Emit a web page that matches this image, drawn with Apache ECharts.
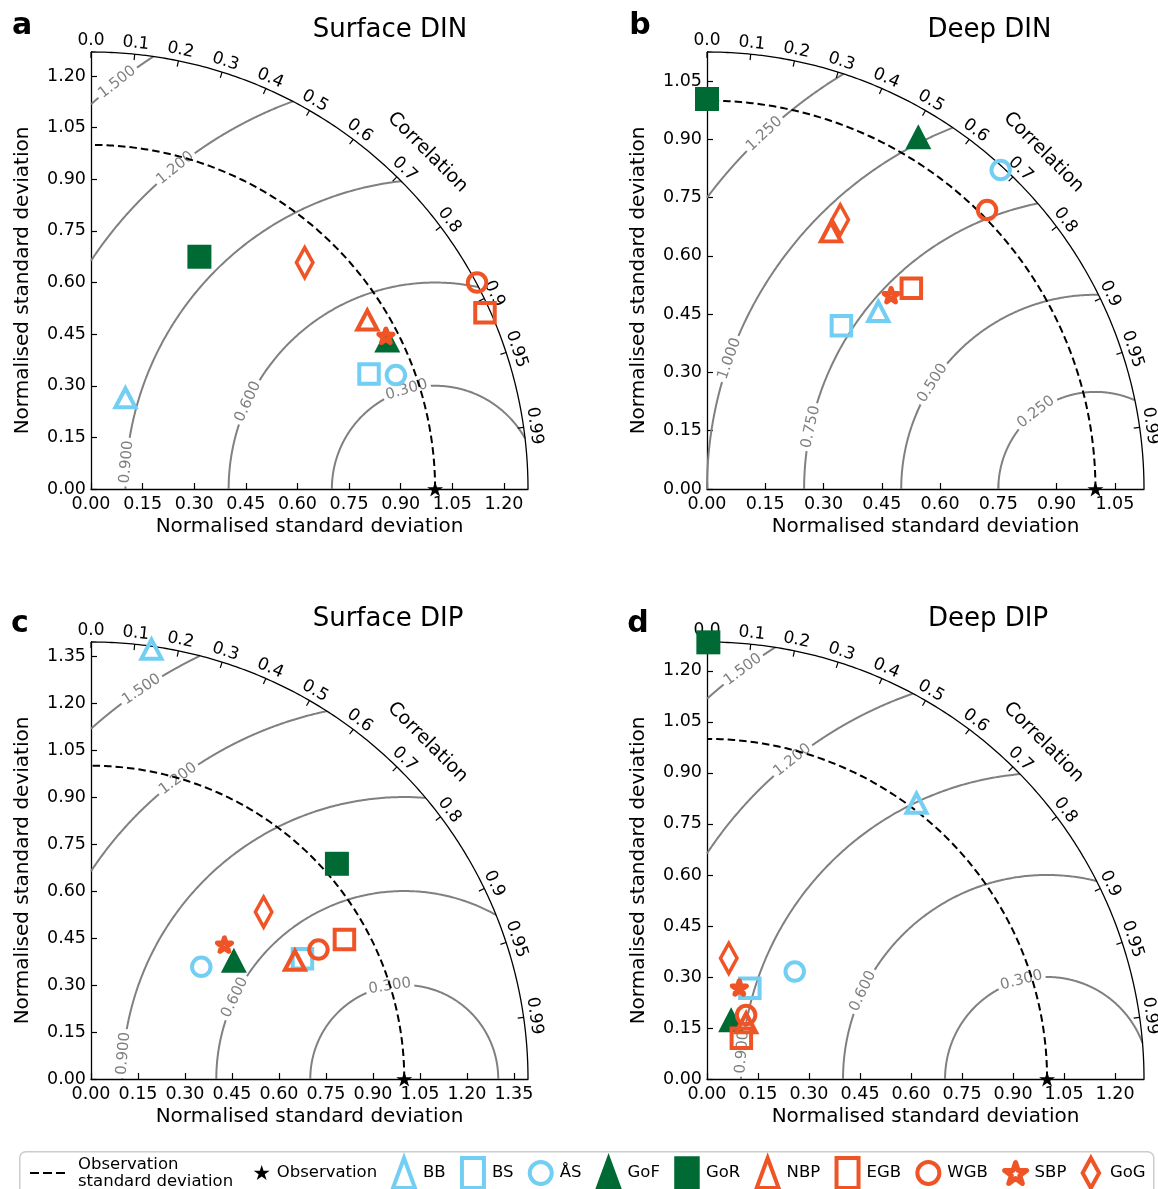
<!DOCTYPE html>
<html><head><meta charset="utf-8">
<script src="https://cdn.jsdelivr.net/npm/echarts@6/dist/echarts.min.js"></script>
<style>html,body{margin:0;padding:0;background:#fff}#c{width:1158px;height:1189px}</style>
</head><body><div id="c"></div>
<script>
// ---------------- DATA ----------------
const modelNames = ['BB','BS','ÅS','GoF','GoR','NBP','EGB','WGB','SBP','GoG'];
const panelLetters = ['a','b','c','d'];
const panelTitles = ['Surface DIN','Deep DIN','Surface DIP','Deep DIP'];
const axisMax = [1.27, 1.125, 1.395, 1.285];
const stdTicksA = [0.00,0.15,0.30,0.45,0.60,0.75,0.90,1.05,1.20];
const stdTicksB = [0.00,0.15,0.30,0.45,0.60,0.75,0.90,1.05];
const stdTicksC = [0.00,0.15,0.30,0.45,0.60,0.75,0.90,1.05,1.20,1.35];
const stdTicksD = [0.00,0.15,0.30,0.45,0.60,0.75,0.90,1.05,1.20];
const corrTicks = [0.0,0.1,0.2,0.3,0.4,0.5,0.6,0.7,0.8,0.9,0.95,0.99];
const corrTickLabels = ['0.0','0.1','0.2','0.3','0.4','0.5','0.6','0.7','0.8','0.9','0.95','0.99'];
const rmsLevelsA = [0.3,0.6,0.9,1.2,1.5];
const rmsLevelsB = [0.25,0.5,0.75,1.0,1.25];
const rmsLevelsC = [0.3,0.6,0.9,1.2,1.5];
const rmsLevelsD = [0.3,0.6,0.9,1.2,1.5];
const obsStd = 1.0;
// model points: x = std*corr, y = std*sqrt(1-corr^2), in modelNames order
const surfaceDIN_x = [0.100,0.808,0.886,0.861,0.315,0.803,1.145,1.122,0.857,0.621];
const surfaceDIN_y = [0.265,0.334,0.331,0.433,0.675,0.491,0.512,0.600,0.445,0.658];
const deepDIN_x    = [0.441,0.346,0.756,0.544,0.000,0.319,0.526,0.721,0.474,0.343];
const deepDIN_y    = [0.457,0.420,0.821,0.907,1.004,0.662,0.517,0.718,0.499,0.693];
const surfaceDIP_x = [0.193,0.675,0.352,0.456,0.785,0.651,0.809,0.726,0.426,0.551];
const surfaceDIP_y = [1.372,0.384,0.358,0.379,0.687,0.379,0.445,0.413,0.429,0.533];
const deepDIP_x    = [0.616,0.126,0.258,0.071,0.004,0.115,0.101,0.115,0.095,0.064];
const deepDIP_y    = [0.811,0.267,0.316,0.174,1.284,0.165,0.120,0.188,0.269,0.355];

// ---------------- LAYOUT / STYLE ----------------
const FONT = 'DejaVu Sans';
const C_BLUE = '#72CFF3', C_GREEN = '#006A35', C_RED = '#EE5425';
const panelX = [surfaceDIN_x, deepDIN_x, surfaceDIP_x, deepDIP_x];
const panelY = [surfaceDIN_y, deepDIN_y, surfaceDIP_y, deepDIP_y];
const stdTicks = [stdTicksA, stdTicksB, stdTicksC, stdTicksD];
const rmsLevels = [rmsLevelsA, rmsLevelsB, rmsLevelsC, rmsLevelsD];
// placement angle (deg, around the observation point) of each contour label
const rmsLabelAngles = [[106,155,175,129,128],[127.7,147,167.7,160.4,133],[98.8,154.3,174.8,127,124],[104.6,154.5,175,128.6,126.6]];
const grids = [{left:91,top:52},{left:707,top:52},{left:91,top:642},{left:707,top:642}];
const GSIZE = 437;

function starPath(inner){
  const pts=[];
  for(let k=0;k<10;k++){
    const a=Math.PI/2+k*Math.PI/5, r=(k%2)?inner:1;
    pts.push((r*Math.cos(a)).toFixed(4)+','+(-r*Math.sin(a)).toFixed(4));
  }
  return 'path://M'+pts.join('L')+'Z';
}
const STAR = starPath(0.382);
const DIAMOND = 'path://M0,-1L0.55,0L0,1L-0.55,0Z';
const DASH = 'path://M0,0h9v2.2h-9zM13,0h9v2.2h-9zM26,0h9v2.2h-9z';
const BW = 4;
const markerDefs = {
  'BB':  {symbol:'triangle', size:[20,19], color:C_BLUE},
  'BS':  {symbol:'rect', size:[19.5,19.5], color:C_BLUE},
  'ÅS':  {symbol:'circle', size:18.5, color:C_BLUE},
  'GoF': {symbol:'triangle', size:[26,25], color:C_GREEN, filled:true},
  'GoR': {symbol:'rect', size:[24,24], color:C_GREEN, filled:true},
  'NBP': {symbol:'triangle', size:[20,19], color:C_RED},
  'EGB': {symbol:'rect', size:[19.5,19.5], color:C_RED},
  'WGB': {symbol:'circle', size:18.5, color:C_RED},
  'SBP': {symbol:STAR, size:[14,13.5], color:C_RED, join:'round', bw:5},
  'GoG': {symbol:DIAMOND, size:[16.5,30], color:C_RED, bw:3.8}
};
const legendIcons = {
  'BB':'triangle','BS':'rect','ÅS':'circle','GoF':'triangle','GoR':'rect',
  'NBP':'triangle','EGB':'rect','WGB':'circle','SBP':STAR,'GoG':DIAMOND
};

function makeDecor(p){
  const R = axisMax[p];
  const items = [];
  rmsLevels[p].forEach((r,k)=>items.push({k:'rms', r, lab:r.toFixed(3), ang:rmsLabelAngles[p][k]}));
  items.push({k:'outer'});
  corrTicks.forEach((c,i)=>items.push({k:'ctick', c, lab:corrTickLabels[i]}));
  items.push({k:'ctitle'});
  return {
    type:'custom', xAxisIndex:p, yAxisIndex:p, z:1, silent:true, clip:false,
    data: items.map(()=>[0,0]),
    renderItem:(params, api)=>{
      const it = items[params.dataIndex];
      const O = api.coord([0,0]);
      const sx = api.coord([1,0])[0]-O[0];
      if(it.k==='rms'){
        const r = it.r;
        let c0 = (R*R-1-r*r)/(2*r); c0 = Math.max(-1,Math.min(1,c0));
        const phi0 = Math.acos(c0);
        const phi1 = r>1 ? Math.acos(-1/r) : Math.PI;
        const a = it.ang*Math.PI/180;
        const half = (43/2+3)/(r*sx);
        const seg = (s,e)=>{
          const pts=[]; const n=160;
          if(e<=s) return {type:'group', children:[]};
          for(let i=0;i<=n;i++){const t=s+(e-s)*i/n; pts.push(api.coord([1+r*Math.cos(t), r*Math.sin(t)]));}
          return {type:'polyline', shape:{points:pts}, style:{stroke:'#808080', lineWidth:2, fill:'none'}};
        };
        const lp = api.coord([1+r*Math.cos(a), r*Math.sin(a)]);
        return {type:'group', children:[
          seg(phi0, a-half), seg(a+half, phi1),
          {type:'text', x:lp[0], y:lp[1], rotation:a-Math.PI/2,
           style:{text:it.lab, fill:'#808080', fontSize:15, fontFamily:FONT, align:'center', verticalAlign:'middle'}}
        ]};
      }
      if(it.k==='outer'){
        const pts=[]; const n=200;
        for(let i=0;i<=n;i++){const t=Math.PI/2*i/n; pts.push(api.coord([R*Math.cos(t), R*Math.sin(t)]));}
        return {type:'polyline', shape:{points:pts}, style:{stroke:'#000', lineWidth:1.3, fill:'none'}};
      }
      if(it.k==='ctick'){
        const th = Math.acos(it.c);
        const P = api.coord([R*Math.cos(th), R*Math.sin(th)]);
        const ux = Math.cos(th), uy = -Math.sin(th);
        return {type:'group', children:[
          {type:'line', shape:{x1:P[0], y1:P[1], x2:P[0]-6*ux, y2:P[1]-6*uy}, style:{stroke:'#000', lineWidth:1.2}},
          {type:'text', x:P[0]+11*ux, y:P[1]+11*uy, rotation:th-Math.PI/2,
           style:{text:it.lab, fill:'#000', fontSize:17, fontFamily:FONT, align:'center', verticalAlign:'middle'}}
        ]};
      }
      if(it.k==='ctitle'){
        const th = Math.PI/4;
        const P = api.coord([R*Math.cos(th), R*Math.sin(th)]);
        return {type:'text', x:P[0]+39*Math.cos(th), y:P[1]-39*Math.sin(th), rotation:-Math.PI/4,
          style:{text:'Correlation', fill:'#000', fontSize:19, fontFamily:FONT, align:'center', verticalAlign:'middle'}};
      }
      return null;
    }
  };
}

function makeObsCircle(p){
  return {
    type:'custom', name:'Observation\nstandard deviation', xAxisIndex:p, yAxisIndex:p, z:2, silent:true, clip:false,
    data:[[0,0]],
    itemStyle:{color:'#000'},
    renderItem:(params, api)=>{
      const pts=[]; const n=200;
      for(let i=0;i<=n;i++){const t=Math.PI/2*i/n; pts.push(api.coord([obsStd*Math.cos(t), obsStd*Math.sin(t)]));}
      return {type:'polyline', shape:{points:pts}, style:{stroke:'#000', lineWidth:2, fill:'none', lineDash:[7.5,4]}};
    }
  };
}

const series = [];
for(let p=0;p<4;p++){
  series.push(makeDecor(p));
  series.push(makeObsCircle(p));
  modelNames.forEach((nm,i)=>{
    const d = markerDefs[nm];
    series.push({
      type:'scatter', name:nm, xAxisIndex:p, yAxisIndex:p, clip:false, silent:true, z:3,
      data:[[panelX[p][i], panelY[p][i]]],
      symbol:d.symbol, symbolSize:d.size,
      itemStyle: d.filled ? {color:d.color, borderWidth:0, opacity:1}
        : {color:'rgba(0,0,0,0)', borderColor:d.color, borderWidth:d.bw||BW, borderJoin:d.join||'miter', opacity:1}
    });
  });
  series.push({type:'scatter', name:'Observation', xAxisIndex:p, yAxisIndex:p, clip:false, silent:true, z:4,
    data:[[obsStd,0]], symbol:STAR, symbolSize:[16,15], itemStyle:{color:'#000', opacity:1}});
}

const tickFmt = p => v => stdTicks[p].some(t=>Math.abs(t-v)<1e-6) ? v.toFixed(2) : '';
const axisCommon = (p)=>({
  gridIndex:p, type:'value', min:0, max:axisMax[p], interval:0.15,
  axisLine:{show:true, onZero:false, lineStyle:{color:'#000', width:1.3}},
  axisTick:{show:true, inside:true, length:6, lineStyle:{color:'#000', width:1.2}, customValues:stdTicks[p]},
  axisLabel:{customValues:stdTicks[p], formatter:tickFmt(p), fontSize:17.5, fontFamily:FONT, color:'#000'},
  splitLine:{show:false},
  name:'Normalised standard deviation', nameLocation:'middle'
});

const graphics = [
  {type:'rect', left:19, top:1151, shape:{width:1134, height:50, r:6}, style:{fill:'#fff', stroke:'#cccccc', lineWidth:1.5}, z:-1}
];
const letterPos = [[22,26.3],[640,26.3],[20,624.6],[638,624.6]];
const titlePos = [[390,30],[989.5,30],[388,619],[988,619]];
for(let p=0;p<4;p++){
  graphics.push({type:'text', x:letterPos[p][0], y:letterPos[p][1], style:{text:panelLetters[p], fill:'#000', fontSize:30, fontWeight:'bold', fontFamily:FONT, align:'center', verticalAlign:'middle'}});
  graphics.push({type:'text', x:titlePos[p][0], y:titlePos[p][1], style:{text:panelTitles[p], fill:'#000', fontSize:26, fontFamily:FONT, align:'center', verticalAlign:'middle'}});
}

const legendText = {fontSize:16.5, fontFamily:FONT, color:'#000'};
const option = {
  animation:false,
  backgroundColor:'#fff',
  grid: grids.map(g=>({left:g.left, top:g.top, width:GSIZE, height:GSIZE})),
  xAxis: [0,1,2,3].map(p=>Object.assign(axisCommon(p), {
    axisLabel:Object.assign(axisCommon(p).axisLabel, {margin:6}),
    nameGap:28, nameTextStyle:{fontSize:20, fontFamily:FONT, color:'#000'}
  })),
  yAxis: [0,1,2,3].map(p=>Object.assign(axisCommon(p), {
    axisLabel:Object.assign(axisCommon(p).axisLabel, {margin:5}),
    nameGap:58, nameTextStyle:{fontSize:20, fontFamily:FONT, color:'#000', padding:[0,20,0,0]}
  })),
  legend: [
    {left:30, top:1156, padding:0, itemWidth:35, itemHeight:30, selectedMode:false,
     textStyle:Object.assign({}, legendText, {padding:[0,0,0,8], lineHeight:17}),
     data:[{name:'Observation\nstandard deviation', icon:DASH, itemStyle:{color:'#000', borderWidth:0, opacity:1}}]},
    {left:253.7, top:1164, padding:0, itemWidth:16, itemHeight:30, selectedMode:false,
     textStyle:Object.assign({}, legendText, {padding:[0,0,0,2]}),
     data:[{name:'Observation', icon:STAR, itemStyle:{color:'#000', borderWidth:0, opacity:1}}]},
    {left:391, top:1156, padding:0, itemWidth:22, itemHeight:30, itemGap:14.3, selectedMode:false,
     textStyle:Object.assign({}, legendText, {padding:[0,0,0,3]}),
     data: modelNames.map(nm=>{
       const d = markerDefs[nm];
       let st;
       if(d.filled) st = {color:d.color, borderColor:d.color, borderWidth:3.5, opacity:1};
       else if(nm==='SBP') st = {color:'rgba(0,0,0,0)', borderColor:d.color, borderWidth:5, borderJoin:'round', opacity:1};
       else st = {color:'rgba(0,0,0,0)', borderColor:d.color, borderWidth:4, opacity:1};
       return {name:nm, icon:legendIcons[nm], itemStyle:st};
     })}
  ],
  graphic: graphics,
  series: series
};
const chart = echarts.init(document.getElementById('c'), null, {renderer:'canvas', width:1158, height:1189});
chart.setOption(option);
</script>
</body></html>
